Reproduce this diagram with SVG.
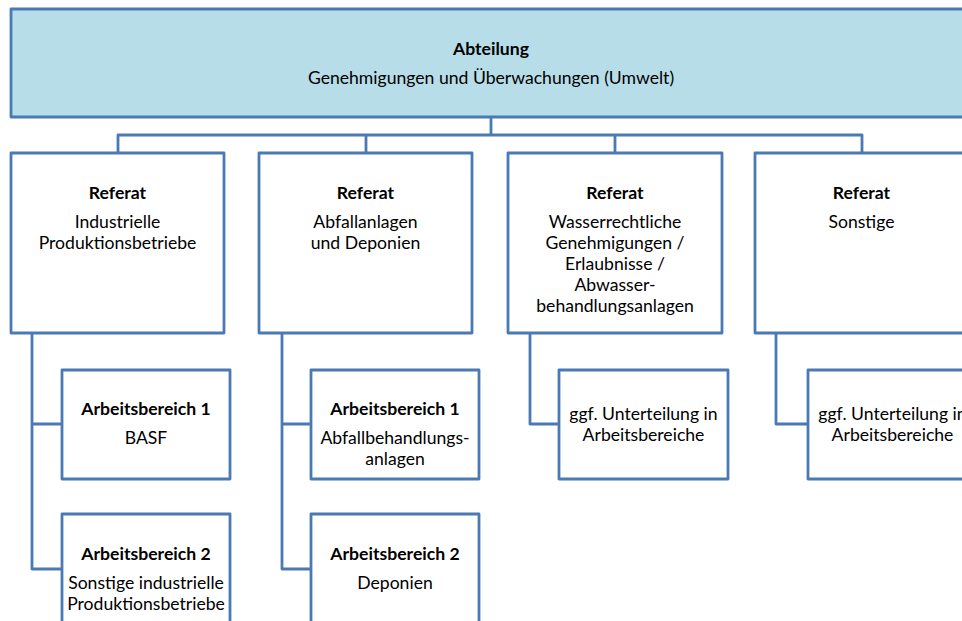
<svg xmlns="http://www.w3.org/2000/svg" width="962" height="621" viewBox="0 0 962 621">
<style>
.box{fill:#ffffff;stroke:#4a7ab5;stroke-width:2.8;stroke-linejoin:round}
.top{fill:#b7dde8;stroke:#4a7ab5;stroke-width:2.8;stroke-linejoin:round}
.con{fill:none;stroke:#4a7ab5;stroke-width:2.8;stroke-linejoin:round}
text{font-family:Lato,"Open Sans","Liberation Sans",sans-serif;font-size:17.6px;fill:#000;text-anchor:middle}
.b{font-weight:bold}
</style>
<rect width="962" height="621" fill="#ffffff"/>
<g id="connectors">
<path class="con" d="M491,117V135M118,153V135H862V153M366,135V153M615,135V153"/>
<path class="con" d="M32,333V569H62M32,424H62"/>
<path class="con" d="M282,333V569H311M282,424H311"/>
<path class="con" d="M530,333V424H559"/>
<path class="con" d="M776,333V424H808"/>
</g>
<g id="abteilung">
<rect class="top" x="11" y="9" width="962" height="108"/>
<text class="b" x="491" y="55">Abteilung</text>
<text x="491" y="84">Genehmigungen und Überwachungen (Umwelt)</text>
</g>
<g id="referat1">
<rect class="box" x="11" y="153" width="213" height="180"/>
<text class="b" x="117.5" y="199">Referat</text>
<text x="117.5" y="228">Industrielle</text>
<text x="117.5" y="249">Produktionsbetriebe</text>
</g>
<g id="referat2">
<rect class="box" x="259" y="153" width="213" height="180"/>
<text class="b" x="365.5" y="199">Referat</text>
<text x="365.5" y="228">Abfallanlagen</text>
<text x="365.5" y="249">und Deponien</text>
</g>
<g id="referat3">
<rect class="box" x="508" y="153" width="214" height="180"/>
<text class="b" x="615" y="199">Referat</text>
<text x="615" y="228">Wasserrechtliche</text>
<text x="615" y="249">Genehmigungen /</text>
<text x="615" y="270">Erlaubnisse /</text>
<text x="615" y="291">Abwasser-</text>
<text x="615" y="312">behandlungsanlagen</text>
</g>
<g id="referat4">
<rect class="box" x="755" y="153" width="213" height="180"/>
<text class="b" x="861.5" y="199">Referat</text>
<text x="861.5" y="228">Sonstige</text>
</g>
<g id="ab1-1">
<rect class="box" x="62" y="370" width="168" height="109"/>
<text class="b" x="146" y="415">Arbeitsbereich 1</text>
<text x="146" y="444">BASF</text>
</g>
<g id="ab1-2">
<rect class="box" x="62" y="514" width="168" height="120"/>
<text class="b" x="146" y="560">Arbeitsbereich 2</text>
<text x="146" y="589">Sonstige industrielle</text>
<text x="146" y="610">Produktionsbetriebe</text>
</g>
<g id="ab2-1">
<rect class="box" x="311" y="370" width="168" height="109"/>
<text class="b" x="395" y="415">Arbeitsbereich 1</text>
<text x="395" y="444">Abfallbehandlungs-</text>
<text x="395" y="465">anlagen</text>
</g>
<g id="ab2-2">
<rect class="box" x="311" y="514" width="168" height="120"/>
<text class="b" x="395" y="560">Arbeitsbereich 2</text>
<text x="395" y="589">Deponien</text>
</g>
<g id="ab3">
<rect class="box" x="559" y="370" width="169" height="109"/>
<text x="643.5" y="420">ggf. Unterteilung in</text>
<text x="643.5" y="441">Arbeitsbereiche</text>
</g>
<g id="ab4">
<rect class="box" x="808" y="370" width="169" height="109"/>
<text x="892.5" y="420">ggf. Unterteilung in</text>
<text x="892.5" y="441">Arbeitsbereiche</text>
</g>
</svg>
